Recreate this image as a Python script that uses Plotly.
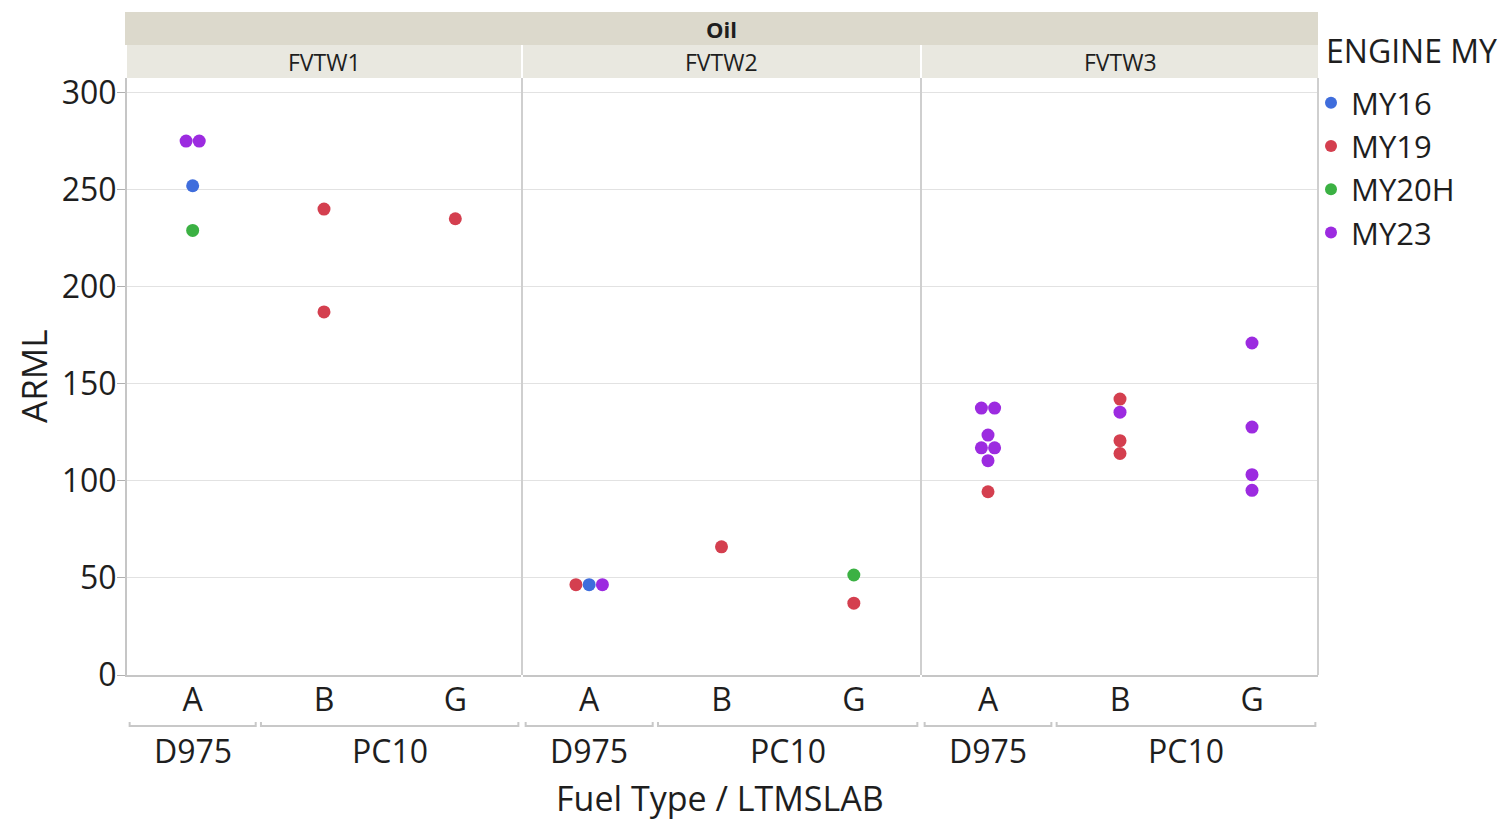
import plotly.graph_objects as go

# ---------------- data ----------------
panel = ["FVTW1"] * 7 + ["FVTW2"] * 6 + ["FVTW3"] * 15
lab = ["A", "A", "A", "A", "B", "B", "G",
       "A", "A", "A", "B", "G", "G",
       "A", "A", "A", "A", "A", "A", "A", "B", "B", "B", "B", "G", "G", "G", "G"]
engine = ["MY23", "MY23", "MY16", "MY20H", "MY19", "MY19", "MY19",
          "MY19", "MY16", "MY23", "MY19", "MY20H", "MY19",
          "MY23", "MY23", "MY23", "MY23", "MY23", "MY23", "MY19",
          "MY19", "MY23", "MY19", "MY19",
          "MY23", "MY23", "MY23", "MY23"]
arml = [275, 275, 252, 229, 240, 187, 235,
        46.5, 46.5, 46.5, 66, 51.5, 37,
        137.5, 137.5, 123.6, 117, 117, 110.4, 94.4,
        142.1, 135.4, 120.7, 114.1,
        171, 127.7, 103.2, 95.1]

panels = ["FVTW1", "FVTW2", "FVTW3"]
labs = ["A", "B", "G"]
fuel_groups = [("D975", ["A"]), ("PC10", ["B", "G"])]
engines = ["MY16", "MY19", "MY20H", "MY23"]
colors = {"MY16": "#3f6ddc", "MY19": "#d43f4f", "MY20H": "#3bb143", "MY23": "#9c2be0"}
y_ticks = [0, 50, 100, 150, 200, 250, 300]

# ---------------- layout geometry ----------------
W, H = 1500, 822
L, R, T, B = 127, 1318, 78, 675
TXT = "#1e1e1e"
FONT = "Open Sans"


def px_x(p):
    return (p - L) / (R - L)


def px_y(p):
    return (B - p) / (B - T)


domains = [[0, px_x(521)], [px_x(523), px_x(920)], [px_x(922), 1.0]]

# beeswarm-like spreading of identical values
DX = 0.1
xpos = [0.0] * len(arml)
groups = {}
for i in range(len(arml)):
    groups.setdefault((panel[i], lab[i], arml[i]), []).append(i)
for key, idx in groups.items():
    n = len(idx)
    for k, i in enumerate(idx):
        xpos[i] = labs.index(lab[i]) + (k - (n - 1) / 2) * DX

fig = go.Figure()
shown = set()
for e in engines:
    for pi, p in enumerate(panels):
        idx = [i for i in range(len(arml)) if engine[i] == e and panel[i] == p]
        if not idx:
            continue
        sfx = "" if pi == 0 else str(pi + 1)
        fig.add_trace(go.Scatter(
            x=[xpos[i] for i in idx], y=[arml[i] for i in idx],
            mode="markers", name=e, legendgroup=e,
            showlegend=e not in shown,
            marker=dict(color=colors[e], size=13, line=dict(width=0)),
            xaxis="x" + sfx, yaxis="y" + sfx,
        ))
        shown.add(e)

layout = dict(
    width=W, height=H,
    margin=dict(l=L, r=W - R, t=T, b=H - B),
    paper_bgcolor="white", plot_bgcolor="white",
    font=dict(family=FONT, color=TXT),
    showlegend=True,
    legend=dict(
        font=dict(size=31, color=TXT),
        x=px_x(1311), y=px_y(76), xanchor="left", yanchor="top",
        itemsizing="constant", itemwidth=30, tracegroupgap=0,
        bgcolor="rgba(0,0,0,0)",
    ),
)
for pi in range(3):
    sfx = "" if pi == 0 else str(pi + 1)
    layout["xaxis" + sfx] = dict(
        domain=domains[pi], range=[-0.5, 2.5], tickvals=[0, 1, 2], ticktext=labs,
        showgrid=False, zeroline=False, showline=True, linecolor="#c6c6c6", linewidth=2,
        ticks="", tickfont=dict(size=32, color=TXT), anchor="y" + sfx, fixedrange=True,
        ticklabelstandoff=-4,
    )
    layout["yaxis" + sfx] = dict(
        range=[0, 307.5], tickvals=y_ticks, showgrid=True, gridcolor="#e2e2e2", gridwidth=1,
        zeroline=False, anchor="x" + sfx, fixedrange=True,
        showticklabels=(pi == 0), showline=(pi == 0), linecolor="#c6c6c6", linewidth=2,
        ticks="outside" if pi == 0 else "", ticklen=8, tickcolor="#b0b0b0",
        tickfont=dict(size=32, color=TXT), ticklabelstandoff=-6,
        matches=None if pi == 0 else "y",
    )
fig.update_layout(**layout)

shapes = []
ann = []


def note(text, x, y, size, xref="paper", yref="paper", **kw):
    ann.append(dict(text=text, xref=xref, yref=yref, x=x, y=y, showarrow=False,
                    xanchor=kw.pop("xanchor", "center"), yanchor="middle",
                    font=dict(size=size, color=TXT), **kw))


# Oil strip
shapes.append(dict(type="rect", xref="paper", yref="paper", x0=px_x(125), x1=1.0,
                   y0=px_y(45), y1=px_y(12), fillcolor="#dcd9cc", line=dict(width=0), layer="below"))
note("<b>Oil</b>", (px_x(125) + 1) / 2, px_y(29), 22)
for pi, p in enumerate(panels):
    d = domains[pi]
    shapes.append(dict(type="rect", xref="paper", yref="paper", x0=d[0], x1=d[1],
                       y0=px_y(78), y1=px_y(45), fillcolor="#e9e8e0", line=dict(width=0), layer="below"))
    note(p, (d[0] + d[1]) / 2, px_y(62), 23)
    sfx = "" if pi == 0 else str(pi + 1)
    # fuel type brackets and labels
    for name, members in fuel_groups:
        i0 = labs.index(members[0])
        i1 = labs.index(members[-1])
        x0, x1 = i0 - 0.48, i1 + 0.48
        yb, yu = px_y(726), px_y(722)
        shapes.append(dict(type="path", xref="x" + sfx, yref="paper",
                           path=f"M {x0},{yu} L {x0},{yb} L {x1},{yb} L {x1},{yu}",
                           line=dict(color="#c8c8c8", width=2)))
        note(name, (i0 + i1) / 2, px_y(750), 32, xref="x" + sfx)
# panel separators and right border
for xp in [522, 921, 1318]:
    shapes.append(dict(type="line", xref="paper", yref="paper", x0=px_x(xp), x1=px_x(xp),
                       y0=0, y1=1, line=dict(color="#cfcfcf", width=2)))

note("Fuel Type / LTMSLAB", px_x(720), px_y(798), 34)
note("ARML", px_x(33), px_y(377), 35, textangle=-90)
note("ENGINE MY", px_x(1324), px_y(50), 32, xanchor="left")
fig.update_layout(shapes=shapes, annotations=ann)

fig.write_html("out.html")
